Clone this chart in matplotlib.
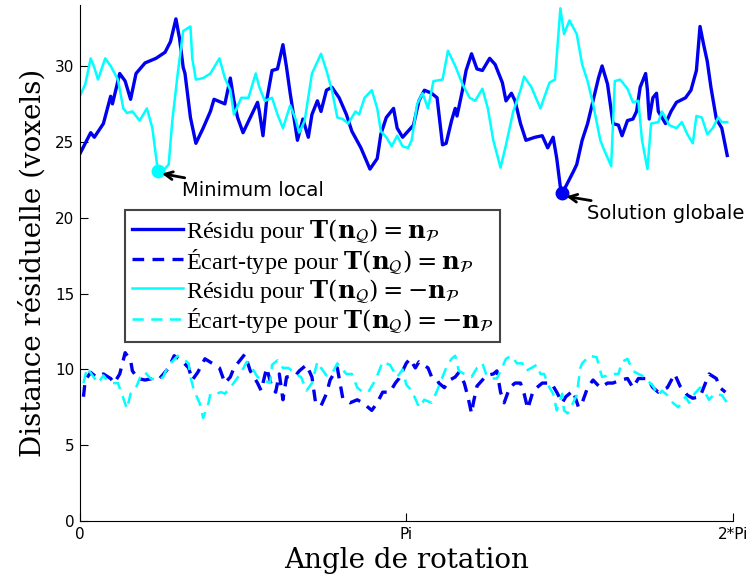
import numpy as np
import matplotlib
matplotlib.use("Agg")
import matplotlib.pyplot as plt

plt.rcParams['mathtext.fontset'] = 'dejavuserif'

# angles in degrees, values in voxels
deg_res_pos = [0, 6, 8, 13, 17, 18, 22, 25, 28, 31, 36, 42, 47, 50, 53, 55, 57, 58, 61, 64,
               68, 72, 74, 80, 83, 85, 87, 90, 94, 98, 99, 101, 103, 106, 109, 112, 114, 116, 120, 123,
               126, 128, 131, 133, 136, 139, 143, 147, 150, 155, 160, 164, 166, 169, 173, 175, 178, 181, 184, 187,
               190, 194, 197, 200, 202, 205, 207, 208, 211, 213, 216, 219, 222, 226, 229, 233, 235, 238, 240, 243,
               246, 251, 255, 258, 261, 263, 265, 266, 269, 272, 274, 277, 280, 283, 286, 288, 291, 294, 297, 299,
               302, 305, 307, 309, 312, 313, 314, 316, 318, 319, 323, 326, 329, 334, 337, 340, 342, 344, 346, 348,
               351, 354, 357]
res_pos = [24.2, 25.6, 25.3, 26.2, 28.0, 27.5, 29.5, 29.0, 27.8, 29.5, 30.2, 30.5, 30.9, 31.6, 33.1, 31.8, 29.9, 29.5, 26.6, 24.9,
           25.9, 27.0, 27.8, 27.5, 29.2, 27.7, 26.6, 25.6, 26.6, 27.6, 27.0, 25.4, 27.7, 29.7, 29.8, 31.4, 29.9, 28.2, 25.1, 26.5,
           25.3, 26.8, 27.7, 27.0, 28.4, 28.6, 27.9, 26.8, 25.7, 24.6, 23.2, 23.9, 25.5, 26.6, 27.2, 25.9, 25.3, 25.7, 26.1, 27.7,
           28.4, 28.2, 27.9, 24.8, 24.9, 26.4, 27.2, 26.7, 28.4, 29.7, 30.8, 29.8, 29.7, 30.5, 30.1, 28.9, 27.7, 28.2, 27.7, 26.2,
           25.1, 25.3, 25.4, 24.6, 25.3, 23.9, 22.0, 21.6, 22.3, 23.0, 23.5, 25.1, 26.2, 27.7, 29.2, 30.0, 28.8, 26.2, 26.1, 25.4,
           26.4, 26.5, 27.0, 28.6, 29.5, 28.4, 26.5, 27.9, 28.2, 27.0, 26.2, 27.0, 27.6, 27.9, 28.4, 29.7, 32.6, 31.4, 30.3, 28.6,
           26.5, 25.9, 24.1]

deg_std_pos = [2, 3, 6, 9, 13, 17, 19, 22, 25, 28, 29, 32, 36, 40, 44, 49, 52, 56, 60, 62,
               65, 69, 73, 77, 80, 83, 85, 91, 94, 98, 100, 103, 106, 108, 110, 112, 114, 119, 121, 125,
               128, 130, 133, 136, 138, 142, 145, 149, 153, 156, 161, 164, 167, 171, 174, 176, 180, 182, 185, 187,
               192, 194, 197, 198, 201, 204, 207, 209, 212, 214, 216, 217, 219, 222, 224, 228, 230, 232, 234, 237,
               240, 243, 245, 247, 250, 252, 255, 260, 263, 266, 268, 272, 275, 277, 280, 283, 287, 291, 294, 298,
               302, 305, 308, 313, 316, 319, 324, 328, 331, 335, 338, 342, 345, 347, 351, 353, 356]
std_pos = [8.2, 9.3, 9.8, 9.5, 9.7, 9.4, 9.1, 9.7, 11.1, 10.6, 9.9, 9.4, 9.3, 9.4, 9.4, 10.1, 10.9, 10.6, 10.1, 9.3,
           9.8, 10.7, 10.4, 10.1, 9.1, 9.5, 10.1, 11.0, 9.9, 9.1, 8.6, 10.1, 8.8, 8.5, 9.7, 8.0, 9.5, 9.6, 9.9, 10.3,
           9.5, 7.8, 7.6, 8.4, 9.3, 10.1, 8.1, 7.8, 8.0, 7.8, 7.3, 7.8, 8.5, 8.5, 9.1, 9.4, 10.4, 10.7, 10.1, 10.5,
           10.1, 9.5, 9.3, 9.1, 8.8, 9.3, 9.5, 9.8, 9.1, 8.2, 7.1, 7.8, 8.9, 9.3, 9.6, 9.7, 9.9, 8.5, 7.8, 8.8,
           9.1, 9.1, 8.4, 7.4, 8.6, 8.8, 9.1, 9.1, 8.5, 7.8, 8.2, 8.6, 7.5, 7.8, 8.8, 9.3, 8.8, 9.1, 9.1, 9.3,
           9.4, 8.8, 9.4, 9.4, 8.8, 8.5, 8.8, 9.7, 8.9, 8.3, 8.1, 8.2, 9.1, 9.7, 9.4, 8.8, 8.5]

deg_res_neg = [0, 3, 6, 8, 10, 14, 17, 21, 24, 26, 29, 33, 37, 40, 43, 46, 49, 51, 54, 57,
               61, 62, 64, 68, 72, 77, 80, 83, 85, 89, 93, 97, 99, 102, 106, 109, 112, 116, 119, 121,
               124, 128, 133, 136, 139, 142, 145, 148, 152, 154, 157, 161, 164, 166, 169, 172, 175, 178, 181, 183,
               186, 189, 192, 195, 200, 203, 207, 211, 215, 218, 222, 225, 228, 232, 235, 239, 243, 245, 249, 254,
               256, 259, 262, 265, 267, 270, 274, 277, 280, 283, 287, 289, 293, 295, 298, 302, 305, 308, 310, 313,
               315, 319, 321, 325, 329, 332, 335, 338, 340, 343, 346, 349, 352, 354, 357]
res_neg = [28.0, 28.8, 30.5, 29.9, 29.1, 30.5, 30.0, 29.1, 27.2, 26.9, 27.0, 26.4, 27.2, 25.9, 23.1, 23.1, 23.5, 26.4, 29.5, 32.3,
           32.6, 30.5, 29.1, 29.2, 29.5, 30.5, 29.2, 28.4, 26.8, 27.9, 27.9, 29.5, 28.6, 27.7, 27.9, 26.8, 25.9, 27.4, 26.5, 25.6,
           26.4, 29.5, 30.8, 29.7, 28.4, 26.6, 26.5, 26.2, 27.0, 26.8, 27.9, 28.4, 27.2, 25.7, 25.3, 24.7, 25.4, 24.7, 24.6, 25.1,
           27.5, 28.2, 27.2, 29.0, 29.1, 31.0, 30.0, 28.8, 27.9, 27.7, 28.5, 27.2, 25.1, 23.3, 24.8, 27.0, 28.4, 29.3, 28.6, 27.2,
           27.9, 28.9, 29.1, 33.8, 32.1, 33.0, 32.1, 30.1, 29.0, 27.5, 25.1, 24.5, 23.4, 29.0, 29.1, 28.5, 27.6, 27.7, 25.1, 23.2,
           26.2, 26.3, 27.0, 26.1, 25.9, 26.3, 25.5, 24.9, 26.7, 26.6, 25.5, 25.9, 26.6, 26.3, 26.3]

deg_std_neg = [2, 4, 7, 10, 13, 15, 18, 21, 24, 26, 28, 31, 34, 36, 39, 43, 46, 47, 50, 54,
               57, 60, 61, 63, 66, 68, 71, 72, 75, 78, 80, 83, 86, 89, 92, 95, 98, 101, 105, 106,
               109, 112, 115, 119, 122, 125, 128, 131, 133, 136, 139, 142, 144, 147, 150, 153, 156, 159, 162, 164,
               167, 171, 175, 178, 180, 183, 186, 187, 190, 194, 197, 200, 202, 205, 207, 209, 212, 216, 219, 222,
               224, 227, 230, 232, 235, 238, 241, 244, 246, 249, 252, 254, 256, 259, 261, 263, 266, 267, 269, 272,
               274, 276, 277, 281, 285, 287, 288, 291, 294, 297, 299, 302, 305, 308, 310, 313, 316, 319, 321, 324,
               327, 330, 334, 336, 339, 342, 345, 347, 350, 354, 357]
std_neg = [9.1, 10.1, 9.6, 9.1, 9.6, 9.3, 9.1, 9.1, 8.1, 7.4, 8.4, 8.8, 9.7, 9.8, 9.4, 9.3, 9.5, 9.8, 10.4, 10.9,
           10.7, 10.4, 9.5, 8.6, 7.8, 6.8, 7.8, 8.4, 8.4, 8.5, 8.4, 8.8, 9.3, 9.8, 10.5, 10.1, 9.5, 9.3, 9.1, 10.3,
           10.6, 10.1, 10.1, 9.7, 9.5, 8.6, 9.1, 10.5, 10.1, 9.6, 9.7, 10.4, 10.1, 9.7, 9.7, 8.8, 8.5, 8.5, 9.1, 9.6,
           10.5, 10.3, 9.5, 10.0, 9.0, 8.6, 7.8, 7.5, 8.0, 7.8, 8.6, 9.5, 10.1, 10.7, 10.9, 9.9, 9.7, 9.5, 10.1, 10.4,
           9.7, 9.4, 9.4, 9.9, 10.7, 10.9, 10.4, 10.4, 9.9, 10.1, 10.3, 9.7, 9.7, 8.8, 8.4, 7.3, 8.4, 7.3, 7.1, 7.8,
           8.3, 10.1, 10.4, 10.9, 10.8, 9.9, 9.5, 9.6, 9.7, 9.7, 10.5, 10.7, 9.9, 9.7, 9.6, 9.3, 8.9, 8.3, 8.6, 8.3,
           7.8, 7.5, 8.2, 7.8, 8.4, 8.8, 8.4, 8.0, 8.4, 8.3, 7.8]

local_min = (43, 23.1)
global_min = (266, 21.6)

labels = [r'Résidu pour $\mathbf{T}(\mathbf{n}_{\mathcal{Q}})=\mathbf{n}_{\mathcal{P}}$',
          r'Écart-type pour $\mathbf{T}(\mathbf{n}_{\mathcal{Q}})=\mathbf{n}_{\mathcal{P}}$',
          r'Résidu pour $\mathbf{T}(\mathbf{n}_{\mathcal{Q}})=-\mathbf{n}_{\mathcal{P}}$',
          r'Écart-type pour $\mathbf{T}(\mathbf{n}_{\mathcal{Q}})=-\mathbf{n}_{\mathcal{P}}$']

blue = '#0000f0'
cyan = '#00ffff'

fig = plt.figure(figsize=(7.53, 5.81), dpi=100)
ax = fig.add_axes([0.106, 0.103, 0.867, 0.888])

ax.plot(np.deg2rad(deg_res_pos), res_pos, color=blue, lw=2.4, label=labels[0])
ax.plot(np.deg2rad(deg_std_pos), std_pos, color=blue, lw=2.4, ls=(0, (3.5, 2.5)), label=labels[1])
ax.plot(np.deg2rad(deg_res_neg), res_neg, color=cyan, lw=1.8, label=labels[2])
ax.plot(np.deg2rad(deg_std_neg), std_neg, color=cyan, lw=1.8, ls=(0, (4.5, 3)), label=labels[3])

ax.plot(np.deg2rad(local_min[0]), local_min[1], 'o', color=cyan, ms=9)
ax.plot(np.deg2rad(global_min[0]), global_min[1], 'o', color=blue, ms=9)

ax.annotate('Minimum local', xy=(np.deg2rad(local_min[0]) + 0.04, local_min[1] - 0.2),
            xytext=(np.deg2rad(local_min[0]) + 0.235, local_min[1] - 1.3),
            fontsize=14, va='center', ha='left',
            arrowprops=dict(arrowstyle='->', color='black', lw=2, shrinkA=1, shrinkB=0))
ax.annotate('Solution globale', xy=(np.deg2rad(global_min[0]) + 0.04, global_min[1] - 0.2),
            xytext=(np.deg2rad(global_min[0]) + 0.235, global_min[1] - 1.3),
            fontsize=14, va='center', ha='left',
            arrowprops=dict(arrowstyle='->', color='black', lw=2, shrinkA=1, shrinkB=0))

ax.set_xlim(0, 2 * np.pi)
ax.set_ylim(0, 34)
ax.set_xticks([0, np.pi, 2 * np.pi])
ax.set_xticklabels(['0', 'Pi', '2*Pi'])
ax.set_yticks(range(0, 31, 5))
ax.tick_params(direction='in', length=6, labelsize=11, pad=4)
for side in ['top', 'right']:
    ax.spines[side].set_visible(False)

ax.set_xlabel('Angle de rotation', fontsize=20, family='DejaVu Serif', labelpad=4)
ax.set_ylabel('Distance résiduelle (voxels)', fontsize=20, family='DejaVu Serif', labelpad=6)

leg = ax.legend(loc='upper left', bbox_to_anchor=(0.069, 0.603), borderaxespad=0,
                prop={'family': 'Liberation Serif', 'size': 17.5},
                handlelength=2.1, handletextpad=0.1, borderpad=0.3, labelspacing=0.05,
                fancybox=False, framealpha=1)
leg.get_frame().set_edgecolor('#444444')
leg.get_frame().set_linewidth(1.5)

fig.savefig('out.png', dpi=100)
